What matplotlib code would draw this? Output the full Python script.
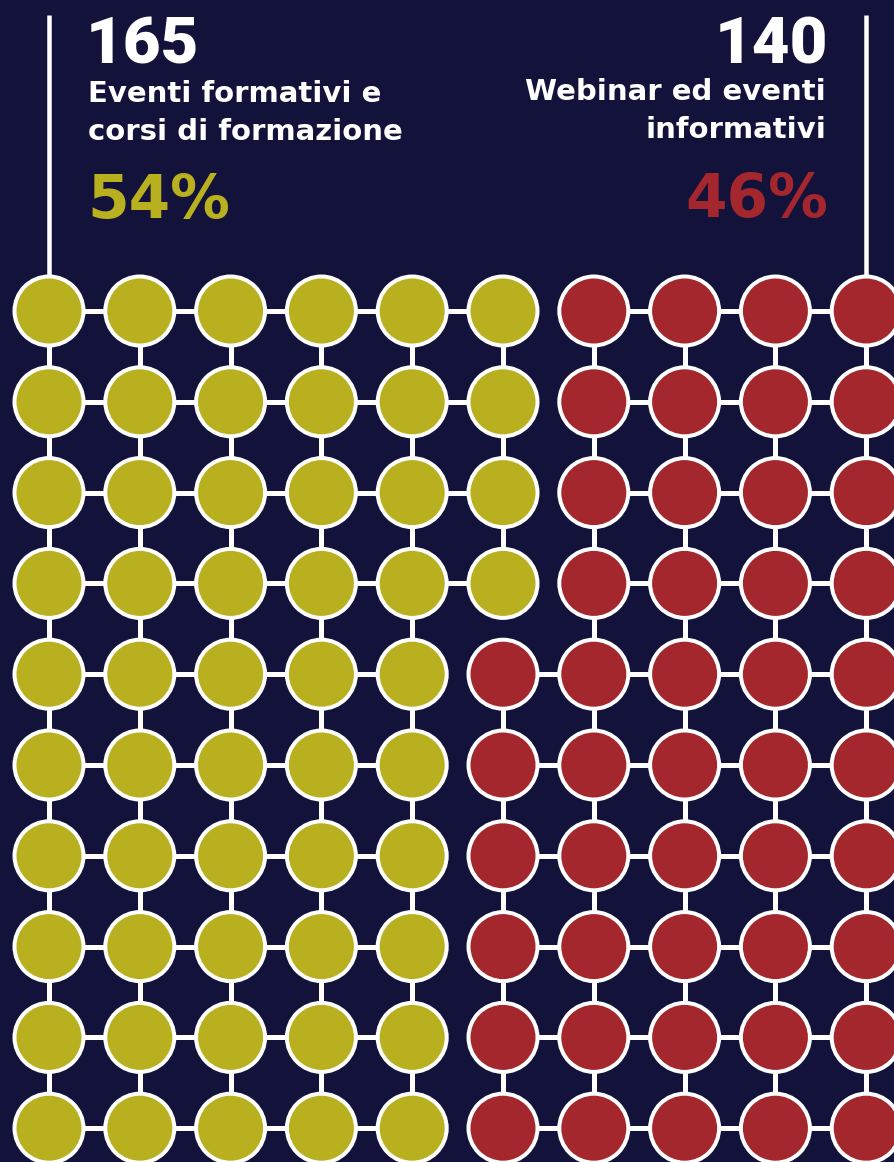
import matplotlib.pyplot as plt
from matplotlib.patches import Circle

# data
counts = [165, 140]
labels = ["Eventi formativi e\ncorsi di formazione", "Webinar ed eventi\ninformativi"]
percents = ["54%", "46%"]
left_per_row = [6, 6, 6, 6, 5, 5, 5, 5, 5, 5]   # yellow cells in each row (54 total)
n_cols = 10

bg = "#13123a"
yellow = "#b8b01f"
red = "#a3272d"
white = "white"

W, H = 894, 1162
fig = plt.figure(figsize=(W / 100, H / 100), dpi=100)
fig.patch.set_facecolor(bg)
ax = fig.add_axes([0, 0, 1, 1])
ax.set_xlim(0, W)
ax.set_ylim(H, 0)
ax.set_aspect("equal")
ax.axis("off")
ax.set_facecolor(bg)

x0, dx = 49, 90.8
y0, dy = 311, 90.8
r = 34.5
px = 0.72  # points per pixel

n_rows = len(left_per_row)
grid = [[0 if c < left_per_row[rw] else 1 for c in range(n_cols)] for rw in range(n_rows)]
cols = [yellow, red]

# connectors between same-coloured neighbours
for rw in range(n_rows):
    for c in range(n_cols):
        x = x0 + c * dx
        y = y0 + rw * dy
        if c + 1 < n_cols and grid[rw][c] == grid[rw][c + 1]:
            ax.plot([x, x + dx], [y, y], color=white, lw=5 * px, zorder=1, solid_capstyle="butt")
        if rw + 1 < n_rows and grid[rw][c] == grid[rw + 1][c]:
            ax.plot([x, x], [y, y + dy], color=white, lw=5 * px, zorder=1, solid_capstyle="butt")
        if rw == n_rows - 1:
            ax.plot([x, x], [y, H + 10], color=white, lw=5 * px, zorder=1)

# circles
for rw in range(n_rows):
    for c in range(n_cols):
        ax.add_patch(Circle((x0 + c * dx, y0 + rw * dy), r, facecolor=cols[grid[rw][c]],
                            edgecolor=white, lw=4 * px, zorder=2))

# top leader lines
for xl in [x0, x0 + (n_cols - 1) * dx]:
    ax.plot([xl, xl], [15, y0 - r], color=white, lw=4.5 * px, zorder=1, solid_capstyle="butt")

fam = ["DejaVu Sans"]
numfam = ["Roboto", "DejaVu Sans"]
# left block
ax.text(86, 64, str(counts[0]), color=white, fontsize=47, fontweight="black", family=numfam,
        ha="left", va="baseline")
ax.text(88, 102, labels[0].split("\n")[0], color=white, fontsize=21, fontweight="bold", family=fam,
        ha="left", va="baseline")
ax.text(88, 140, labels[0].split("\n")[1], color=white, fontsize=21, fontweight="bold", family=fam,
        ha="left", va="baseline")
ax.text(87, 218, percents[0], color=yellow, fontsize=43, fontweight="heavy", family=fam,
        ha="left", va="baseline")

# right block
ax.text(828, 63, str(counts[1]), color=white, fontsize=47, fontweight="black", family=numfam,
        ha="right", va="baseline")
ax.text(826, 100, labels[1].split("\n")[0], color=white, fontsize=21, fontweight="bold", family=fam,
        ha="right", va="baseline")
ax.text(826, 138, labels[1].split("\n")[1], color=white, fontsize=21, fontweight="bold", family=fam,
        ha="right", va="baseline")
ax.text(828, 217, percents[1], color=red, fontsize=43, fontweight="heavy", family=fam,
        ha="right", va="baseline")

fig.savefig("out.png", dpi=100, facecolor=bg)
